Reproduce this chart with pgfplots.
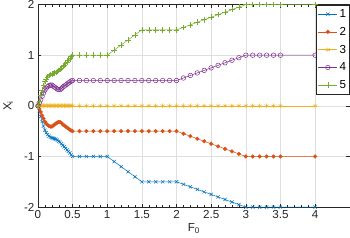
\documentclass[border=0pt]{standalone}
\usepackage{pgfplots}
\pgfplotsset{compat=1.18}
\usepackage{fontspec}
\setmainfont{Liberation Sans}
\definecolor{c1}{rgb}{0,0.447,0.741}
\definecolor{c2}{rgb}{0.850,0.325,0.098}
\definecolor{c3}{rgb}{0.929,0.694,0.125}
\definecolor{c4}{rgb}{0.494,0.184,0.556}
\definecolor{c5}{rgb}{0.466,0.674,0.188}
\definecolor{axc}{rgb}{0.15,0.15,0.15}
\begin{document}
\begin{tikzpicture}
\begin{axis}[
  scale only axis, width=311pt, height=202pt,
  xmin=0, xmax=4.5, ymin=-2, ymax=2,
  xtick={0,0.5,...,4}, ytick={-2,-1,0,1,2},
  minor x tick num=4,
  grid=major, major grid style={gray!25, line width=0.4pt},
  axis line style={axc, line width=0.5pt},
  tick style={axc, line width=0.4pt},
  tick align=inside,
  major tick length=3.5pt, minor tick length=2pt,
  ticklabel style={font=\fontsize{11.6}{14}\selectfont, text=axc},
  yticklabel style={inner ysep=0.5pt},
  xticklabel style={inner ysep=0.5pt, yshift=-2.8pt},
  /pgf/number format/assume math mode=true,
  xlabel={F\textsubscript{0}}, ylabel={X\textsubscript{i}},
  label style={font=\fontsize{11.6}{14}\selectfont, text=axc},
  xlabel style={yshift=-1pt},
  ylabel style={yshift=4pt},
  legend style={at={(1,1)}, anchor=north east, font=\fontsize{11.6}{14}\selectfont,
    draw=axc, line width=0.5pt, inner xsep=1.5pt, inner ysep=2.5pt, row sep=4.2pt, cells={anchor=west}},
  legend image code/.code={
    \draw[mark repeat=2,mark phase=2] plot coordinates {(0cm,0cm) (0.33cm,0cm) (0.66cm,0cm)};
  },
  every axis plot/.append style={line width=0.5pt},
]
\addplot[c1, mark=x, mark size=2.3pt] coordinates {
(0,0) (0.02,-0.10) (0.04,-0.21) (0.06,-0.31) (0.08,-0.40) (0.10,-0.48) (0.12,-0.53) (0.14,-0.57) (0.16,-0.60) (0.18,-0.62) (0.20,-0.63) (0.22,-0.64) (0.24,-0.65) (0.26,-0.66) (0.28,-0.68) (0.30,-0.70) (0.32,-0.72) (0.34,-0.75) (0.36,-0.78) (0.38,-0.81) (0.40,-0.84) (0.42,-0.87) (0.44,-0.90) (0.46,-0.93) (0.48,-0.97) (0.50,-1.00)
(0.6,-1) (0.7,-1) (0.8,-1) (0.9,-1) (1.0,-1) (1.1,-1.1) (1.2,-1.2) (1.3,-1.3) (1.4,-1.4) (1.5,-1.5) (1.6,-1.5) (1.7,-1.5) (1.8,-1.5) (1.9,-1.5) (2.0,-1.5) (2.1,-1.55) (2.2,-1.6) (2.3,-1.65) (2.4,-1.7) (2.5,-1.75) (2.6,-1.8) (2.7,-1.85) (2.8,-1.9) (2.9,-1.95) (3.0,-2) (3.1,-2) (3.2,-2) (3.3,-2) (3.4,-2) (3.5,-2) (4,-2)};
\addlegendentry{1}
\addplot[c2, mark=*, mark size=1.8pt] coordinates {
(0,0) (0.02,-0.06) (0.04,-0.12) (0.06,-0.19) (0.08,-0.25) (0.10,-0.31) (0.12,-0.35) (0.14,-0.38) (0.16,-0.40) (0.18,-0.41) (0.20,-0.41) (0.22,-0.39) (0.24,-0.37) (0.26,-0.35) (0.28,-0.33) (0.30,-0.32) (0.32,-0.32) (0.34,-0.34) (0.36,-0.37) (0.38,-0.39) (0.40,-0.41) (0.42,-0.43) (0.44,-0.45) (0.46,-0.47) (0.48,-0.49) (0.50,-0.50)
(0.6,-0.5) (0.7,-0.5) (0.8,-0.5) (0.9,-0.5) (1.0,-0.5) (1.1,-0.5) (1.2,-0.5) (1.3,-0.5) (1.4,-0.5) (1.5,-0.5) (1.6,-0.5) (1.7,-0.5) (1.8,-0.5) (1.9,-0.5) (2.0,-0.5) (2.1,-0.55) (2.2,-0.6) (2.3,-0.65) (2.4,-0.7) (2.5,-0.75) (2.6,-0.8) (2.7,-0.85) (2.8,-0.9) (2.9,-0.95) (3.0,-1) (3.1,-1) (3.2,-1) (3.3,-1) (3.4,-1) (3.5,-1) (4,-1)};
\addlegendentry{2}
\addplot[c3, mark=asterisk, mark size=2.4pt] coordinates {
(0,0) (0.02,0) (0.04,0) (0.06,0) (0.08,0) (0.10,0) (0.12,0) (0.14,0) (0.16,0) (0.18,0) (0.20,0) (0.22,0) (0.24,0) (0.26,0) (0.28,0) (0.30,0) (0.32,0) (0.34,0) (0.36,0) (0.38,0) (0.40,0) (0.42,0) (0.44,0) (0.46,0) (0.48,0) (0.50,0)
(0.6,0) (0.7,0) (0.8,0) (0.9,0) (1.0,0) (1.1,0) (1.2,0) (1.3,0) (1.4,0) (1.5,0) (1.6,0) (1.7,0) (1.8,0) (1.9,0) (2.0,0) (2.1,0) (2.2,0) (2.3,0) (2.4,0) (2.5,0) (2.6,0) (2.7,0) (2.8,0) (2.9,0) (3.0,0) (3.1,0) (3.2,0) (3.3,0) (3.4,0) (3.5,0) (4,0)};
\addlegendentry{3}
\addplot[c4, mark=o, mark size=2.3pt] coordinates {
(0,0) (0.02,0.06) (0.04,0.12) (0.06,0.19) (0.08,0.25) (0.10,0.31) (0.12,0.35) (0.14,0.38) (0.16,0.40) (0.18,0.41) (0.20,0.41) (0.22,0.39) (0.24,0.37) (0.26,0.35) (0.28,0.33) (0.30,0.32) (0.32,0.32) (0.34,0.34) (0.36,0.37) (0.38,0.39) (0.40,0.41) (0.42,0.43) (0.44,0.45) (0.46,0.47) (0.48,0.49) (0.50,0.50)
(0.6,0.5) (0.7,0.5) (0.8,0.5) (0.9,0.5) (1.0,0.5) (1.1,0.5) (1.2,0.5) (1.3,0.5) (1.4,0.5) (1.5,0.5) (1.6,0.5) (1.7,0.5) (1.8,0.5) (1.9,0.5) (2.0,0.5) (2.1,0.55) (2.2,0.6) (2.3,0.65) (2.4,0.7) (2.5,0.75) (2.6,0.8) (2.7,0.85) (2.8,0.9) (2.9,0.95) (3.0,1) (3.1,1) (3.2,1) (3.3,1) (3.4,1) (3.5,1) (4,1)};
\addlegendentry{4}
\addplot[c5, mark=+, mark size=2.8pt] coordinates {
(0,0) (0.02,0.10) (0.04,0.21) (0.06,0.31) (0.08,0.40) (0.10,0.48) (0.12,0.53) (0.14,0.57) (0.16,0.60) (0.18,0.62) (0.20,0.63) (0.22,0.64) (0.24,0.65) (0.26,0.66) (0.28,0.68) (0.30,0.70) (0.32,0.72) (0.34,0.75) (0.36,0.78) (0.38,0.81) (0.40,0.84) (0.42,0.87) (0.44,0.90) (0.46,0.93) (0.48,0.97) (0.50,1.00)
(0.6,1) (0.7,1) (0.8,1) (0.9,1) (1.0,1) (1.1,1.1) (1.2,1.2) (1.3,1.3) (1.4,1.4) (1.5,1.5) (1.6,1.5) (1.7,1.5) (1.8,1.5) (1.9,1.5) (2.0,1.5) (2.1,1.55) (2.2,1.6) (2.3,1.65) (2.4,1.7) (2.5,1.75) (2.6,1.8) (2.7,1.85) (2.8,1.9) (2.9,1.95) (3.0,2) (3.1,2) (3.2,2) (3.3,2) (3.4,2) (3.5,2) (4,2)};
\addlegendentry{5}
\end{axis}
\end{tikzpicture}
\end{document}
